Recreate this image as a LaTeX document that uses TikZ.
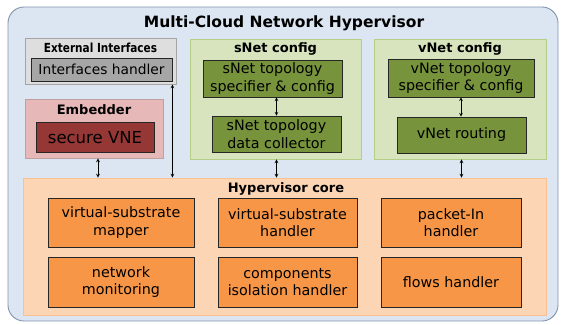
\documentclass[tikz,border=0pt]{standalone}
\usepackage{fontspec}
\setmainfont{DejaVu Sans}
\newfontfamily\narrowbold[FakeStretch=0.84]{DejaVu Sans Bold}
\usetikzlibrary{arrows, shadows}

\definecolor{hvfill}{RGB}{220,230,242}
\definecolor{hvline}{RGB}{130,148,172}
\definecolor{extfill}{RGB}{222,222,222}
\definecolor{extline}{RGB}{165,165,165}
\definecolor{extin}{RGB}{166,166,166}
\definecolor{embfill}{RGB}{230,185,184}
\definecolor{embline}{RGB}{190,160,160}
\definecolor{embin}{RGB}{149,55,53}
\definecolor{cfgfill}{RGB}{215,228,189}
\definecolor{cfgline}{RGB}{180,205,135}
\definecolor{cfgin}{RGB}{119,147,60}
\definecolor{corefill}{RGB}{252,213,181}
\definecolor{coreline}{RGB}{250,192,144}
\definecolor{corein}{RGB}{247,150,70}

\begin{document}
\begin{tikzpicture}[x=1pt,y=-1pt,
    group/.style={draw=#1, line width=0.9pt, inner sep=0pt,
        drop shadow={shadow xshift=1.2pt, shadow yshift=-1.2pt, opacity=0.25}},
    block/.style={draw=black!85, line width=0.6pt, fill=#1, inner sep=1pt,
        align=center, font=\fontsize{14.3}{17.5}\selectfont},
    head/.style={font=\bfseries\fontsize{13}{16}\selectfont},
    link/.style={<->, >=stealth, line width=0.7pt}]

    \useasboundingbox (0,0) rectangle (561,324);

    % frame
    \draw[draw=hvline, fill=hvfill, line width=0.9pt, rounded corners=16pt] (8,7) rectangle (558,321);
    \node[font=\bfseries\fontsize{15.5}{19}\selectfont] (title) at (284,23) {Multi-Cloud Network Hypervisor};

    % external interfaces
    \node[group=extline, fill=extfill, minimum width=151pt, minimum height=46pt] (ext) at (100.5,61) {};
    \node[font=\narrowbold\fontsize{12.5}{15}\selectfont] (exthead) at (100.5,47.5) {External Interfaces};
    \node[block=extin, minimum width=141pt, minimum height=23pt, font=\fontsize{13.8}{16}\selectfont] (ifh) at (101.5,69.5) {Interfaces handler};

    % embedder
    \node[group=embline, fill=embfill, minimum width=138pt, minimum height=59pt] (embed) at (94,128.5) {};
    \node[head] (embhead) at (94,110) {Embedder};
    \node[block=embin, minimum width=118pt, minimum height=30pt, font=\fontsize{16.5}{20}\selectfont] (vne) at (95,137.5) {secure VNE};

    % sNet
    \node[group=cfgline, fill=cfgfill, minimum width=171pt, minimum height=120pt] (snet) at (275.5,99) {};
    \node[head] (snethead) at (275.5,48.5) {sNet config};
    \node[block=cfgin, minimum width=139pt, minimum height=37pt] (sspec) at (272.5,78.5) {sNet topology\\specifier \& config};
    \node[block=cfgin, minimum width=129pt, minimum height=36pt] (scoll) at (276.5,134) {sNet topology\\data collector};

    % vNet
    \node[group=cfgline, fill=cfgfill, minimum width=172pt, minimum height=120pt] (vnet) at (460,99) {};
    \node[head] (vnethead) at (460,48.5) {vNet config};
    \node[block=cfgin, minimum width=146pt, minimum height=38pt] (vspec) at (461,78) {vNet topology\\specifier \& config};
    \node[block=cfgin, minimum width=129pt, minimum height=36pt] (vrout) at (461.5,135) {vNet routing};

    % core
    \node[group=coreline, fill=corefill, minimum width=523pt, minimum height=137pt] (core) at (284.5,246.5) {};
    \node[head] (corehead) at (286,189) {Hypervisor core};
    \node[block=corein, minimum width=146pt, minimum height=49pt] (mapper) at (121,222.5) {virtual-substrate\\mapper};
    \node[block=corein, minimum width=139pt, minimum height=49pt] (vshandler) at (287.5,222.5) {virtual-substrate\\handler};
    \node[block=corein, minimum width=140pt, minimum height=49pt] (pktin) at (451,222.5) {packet-In\\handler};
    \node[block=corein, minimum width=146pt, minimum height=50pt] (monitor) at (121,282) {network\\monitoring};
    \node[block=corein, minimum width=139pt, minimum height=50pt] (isolation) at (287.5,282) {components\\isolation handler};
    \node[block=corein, minimum width=140pt, minimum height=50pt] (flows) at (451,282) {flows handler};

    % links
    \draw[link] ([xshift=-4pt]ext.south east) -- ([xshift=-4pt]ext.south east |- core.north);
    \draw[link] ([xshift=4pt]embed.south) -- ([xshift=4pt]embed.south |- core.north);
    \draw[link] (sspec.south -| scoll.north) -- (scoll.north);
    \draw[link] (scoll.south |- snet.south) -- (scoll.south |- core.north);
    \draw[link] (vspec.south) -- (vspec.south |- vrout.north);
    \draw[link] (vrout.south |- vnet.south) -- (vrout.south |- core.north);

\end{tikzpicture}
\end{document}
